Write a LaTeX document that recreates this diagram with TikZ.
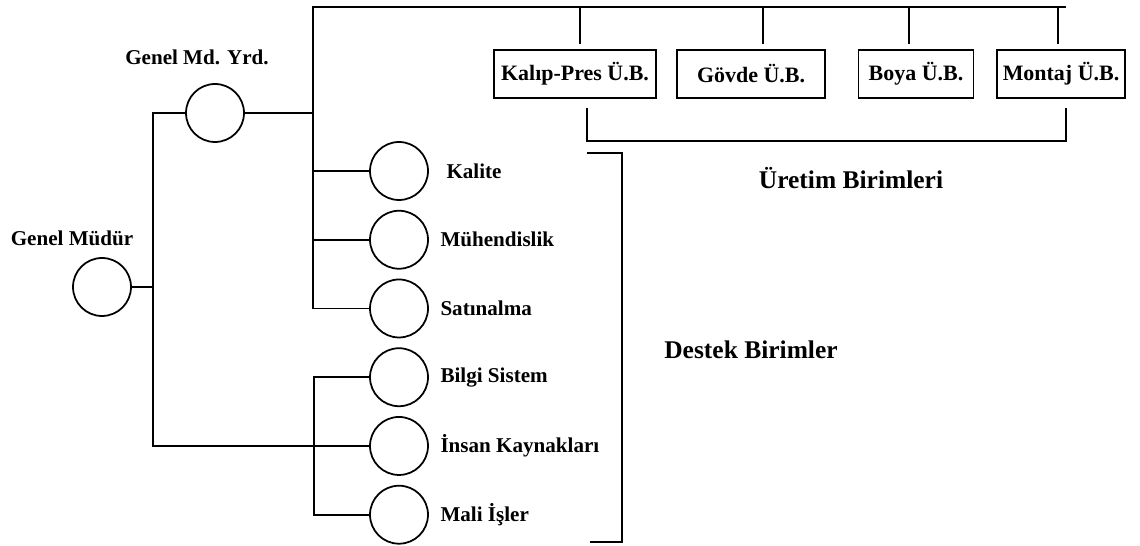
\documentclass[tikz,border=0pt]{standalone}
\usepackage{fontspec}
\setmainfont{Liberation Serif}
\usetikzlibrary{positioning}
\tikzset{
  unit/.style={circle, draw, line width=1pt, minimum size=1.16cm, inner sep=0pt},
  ubox/.style={draw, line width=1pt, minimum height=0.95cm, inner sep=1pt, font=\bfseries\fontsize{12.5}{14}\selectfont},
  lbl/.style={font=\bfseries\fontsize{12}{14}\selectfont, inner sep=1pt},
  grp/.style={font=\bfseries\fontsize{14.5}{17}\selectfont, inner sep=1pt}}

\begin{document}
\begin{tikzpicture}[x=0.02cm, y=-0.02cm, line width=1pt]
\useasboundingbox (0,0) rectangle (1140,546);
\node[unit] (gmy) at (215,113) {};
\node[unit] (gm) at (102,287) {};
\node[unit] (kal) at (399,171) {};
\node[unit, below=0.18cm of kal] (muh) {};
\node[unit, below=0.18cm of muh] (sat) {};
\node[unit, below=0.18cm of sat] (bil) {};
\node[unit, below=0.18cm of bil] (ins) {};
\node[unit, below=0.18cm of ins] (mal) {};
\node[lbl] (lgmy) at (197,57) {Genel Md. Yrd.};
\node[lbl] (lgm) at (72,238) {Genel Müdür};
\node[lbl, right=0.3cm of kal] (lkal) {Kalite};
\node[lbl, right=0.18cm of muh] (lmuh) {Mühendislik};
\node[lbl, right=0.18cm of sat] (lsat) {Satınalma};
\node[lbl, right=0.18cm of bil] (lbil) {Bilgi Sistem};
\node[lbl, right=0.18cm of ins] (lins) {İnsan Kaynakları};
\node[lbl, right=0.18cm of mal] (lmal) {Mali İşler};
\node[ubox, minimum width=3.24cm] (kp) at (575,74) {Kalıp-Pres Ü.B.};
\node[ubox, minimum width=2.96cm] (gov) at (751,74) {Gövde Ü.B.};
\node[ubox, minimum width=2.3cm] (boy) at (916,74) {Boya Ü.B.};
\node[ubox, minimum width=2.56cm] (mon) at (1061,74) {Montaj Ü.B.};
\node[grp] (uret) at (851,178) {Üretim Birimleri};
\node[grp] (destek) at (751,350) {Destek Birimler};
\coordinate (b1) at (153,0);
\coordinate (b2) at (314,0);
\coordinate (t0) at (313,7);
\coordinate (t5) at (1066,7);
\coordinate (t1) at (580,7);
\coordinate (t2) at (763,7);
\coordinate (t3) at (909,7);
\coordinate (t4) at (1058,7);
\coordinate (u1) at (587,108);
\coordinate (u2) at (1066,141);
\coordinate (d1) at (587,153);
\coordinate (d2) at (622,542);
\coordinate (d3) at (590,542);
\draw (gm.east) -- (gm.east -| b1);
\draw (gmy.west) -| (b1 |- ins.west) -- (ins.west);
\draw (gmy.east) -- (gmy.east -| t0);
\draw (t5) -- (t0) |- (sat.west);
\draw (kal.west) -- (kal.west -| t0);
\draw (muh.west) -- (muh.west -| t0);
\draw (bil.west) -| (b2 |- mal.west) -- (mal.west);
\draw[shorten >=2.8pt] (t1) -- (t1 |- kp.north);
\draw[shorten >=2.8pt] (t2) -- (t2 |- gov.north);
\draw[shorten >=2.8pt] (t3) -- (t3 |- boy.north);
\draw[shorten >=2.8pt] (t4) -- (t4 |- mon.north);
\draw (u1) |- (u2) -- (u2 |- u1);
\draw (d1) -| (d2) -- (d3);
\end{tikzpicture}
\end{document}
